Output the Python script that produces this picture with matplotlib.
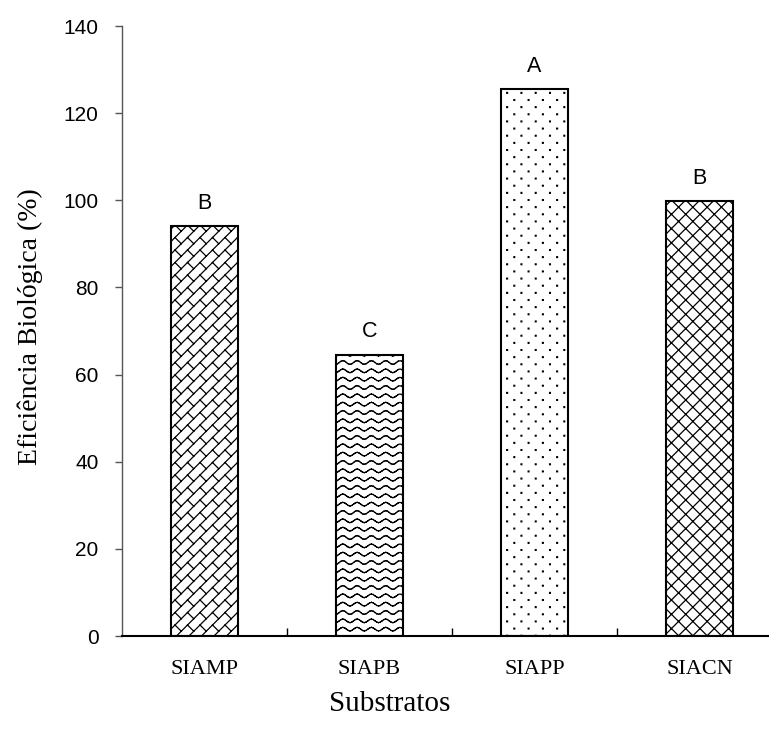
import warnings
import numpy as np
import matplotlib
matplotlib.use("Agg")
import matplotlib.pyplot as plt
import matplotlib.hatch as mhatch
from matplotlib.path import Path

warnings.filterwarnings("ignore")

substratos = ["SIAMP", "SIAPB", "SIAPP", "SIACN"]
eficiencia = [94.0, 64.5, 125.5, 99.8]
letras = ["B", "C", "A", "B"]
padroes = ["b", "w", "d", "c"]   # brick, wave, dots, cross
y_ticks = [0, 20, 40, 60, 80, 100, 120, 140]


# --- custom hatches (unit square, tiled every inch) ---
def segs_to_path(segs):
    verts = []
    codes = []
    for (x0, y0), (x1, y1) in segs:
        verts += [(x0, y0), (x1, y1)]
        codes += [Path.MOVETO, Path.LINETO]
    return verts, codes


def brick_hatch(n=8, m=8):
    segs = []
    h = 1.0 / n
    for i in range(-n, 2 * n + 1):
        d = i * h
        segs.append(((d - 1, -1), (d + 2, 2)))
        for k in range(-m, 2 * m + 1):
            t = k / m
            segs.append(((t + d, t), (t + d + h / 2, t - h / 2)))
    return segs_to_path(segs)


def wave_hatch(rows=12, teeth=7, amp=0.018):
    segs = []
    xs = np.linspace(0, 1, 8 * teeth + 1)
    for r in range(rows):
        yc = (r + 0.5) / rows
        ys = yc + amp * np.cos(2 * np.pi * teeth * xs)
        for j in range(len(xs) - 1):
            segs.append(((xs[j], ys[j]), (xs[j + 1], ys[j + 1])))
    return segs_to_path(segs)


def cross_hatch(n=7):
    segs = []
    for k in range(-n, 2 * n + 1):
        d = k / n
        segs.append(((d - 1, -1), (d + 2, 2)))
        segs.append(((d + 1, -1), (d - 2, 2)))
    return segs_to_path(segs)


def dot_hatch(rows=14, cols=7, s=0.004):
    verts = []
    codes = []
    for r in range(rows + 1):
        off = (r % 2) * 0.5 / cols
        for c in range(-1, cols + 2):
            x = c / cols + off
            y = r / rows
            verts += [(x - s, y - s), (x + s, y - s), (x + s, y + s), (x - s, y + s), (x - s, y - s)]
            codes += [Path.MOVETO, Path.LINETO, Path.LINETO, Path.LINETO, Path.CLOSEPOLY]
    return verts, codes


CUSTOM = {"b": brick_hatch(), "w": wave_hatch(), "c": cross_hatch(), "d": dot_hatch()}


class CustomHatch(mhatch.HatchPatternBase):
    def __init__(self, hatch, density):
        self.verts = []
        self.codes = []
        for ch, (v, c) in CUSTOM.items():
            if ch in hatch:
                self.verts += v
                self.codes += c
        self.num_vertices = len(self.verts)

    def set_vertices_and_codes(self, vertices, codes):
        vertices[:] = np.array(self.verts)
        codes[:] = np.array(self.codes)


mhatch._hatch_types.append(CustomHatch)

plt.rcParams["hatch.linewidth"] = 0.9

fig = plt.figure(figsize=(7.69, 7.36), dpi=100)
ax = fig.add_axes([122 / 769, 1 - 636 / 736, 660 / 769, 610 / 736])

x = np.arange(len(substratos))
bars = ax.bar(x, eficiencia, width=0.405, color="white", edgecolor="black", linewidth=1.5)
for b, p in zip(bars, padroes):
    b.set_hatch(p)

for xi, v, l in zip(x, eficiencia, letras):
    ax.annotate(l, (xi, v), xytext=(0, 9), textcoords="offset points",
                ha="center", va="bottom", fontsize=15.5, family="Liberation Sans")

ax.set_xlim(-0.5, 3.5)
ax.set_ylim(0, 140)
ax.set_yticks(y_ticks)
ax.set_yticklabels([str(t) for t in y_ticks], family="Liberation Sans", fontsize=15)
ax.set_xticks(x)
ax.set_xticklabels(substratos, family="Liberation Serif", fontsize=16)
ax.set_xticks([0.5, 1.5, 2.5], minor=True)
ax.tick_params(axis="x", which="major", length=0, pad=17)
ax.tick_params(axis="x", which="minor", direction="in", length=6, width=1)
ax.tick_params(axis="y", direction="out", length=5, width=1, color="#555555", pad=12)

for s in ["top", "right"]:
    ax.spines[s].set_visible(False)
ax.spines["left"].set_color("#555555")
ax.spines["left"].set_linewidth(1.0)
ax.spines["bottom"].set_linewidth(1.5)

fig.text(30 / 769, 1 - 327 / 736, "Eficiência Biológica (%)", rotation=90,
         ha="center", va="center", family="Liberation Serif", fontsize=20)
fig.text(390 / 769, 1 - 704 / 736, "Substratos", ha="center", va="center",
         family="Liberation Serif", fontsize=21)

fig.savefig("out.png", dpi=100)
